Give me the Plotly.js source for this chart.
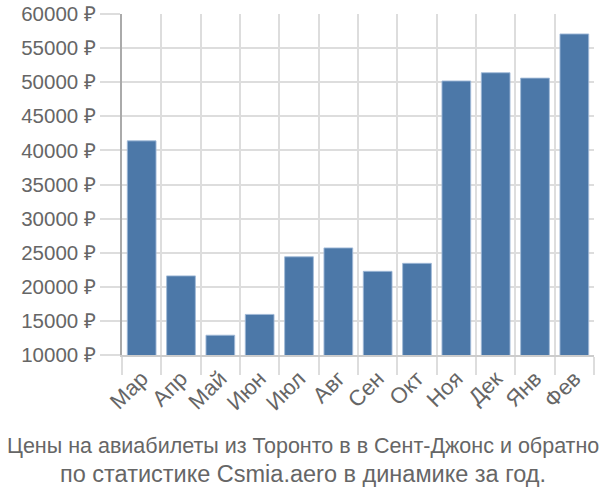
<!DOCTYPE html>
<html>
<head>
<meta charset="utf-8">
<script src="https://cdn.plot.ly/plotly-3.0.1.min.js"></script>
<style>html,body{margin:0;padding:0;background:#fff}#chart{width:600px;height:500px}</style>
</head>
<body>
<div id="chart"></div>
<script>
const months = ["Мар","Апр","Май","Июн","Июл","Авг","Сен","Окт","Ноя","Дек","Янв","Фев"];
const prices = [41400, 21600, 12900, 15950, 24400, 25700, 22270, 23440, 50180, 51390, 50600, 57070];
const yTicks = [10000,15000,20000,25000,30000,35000,40000,45000,50000,55000,60000];
const titleLine1 = "Цены на авиабилеты из Торонто в в Сент-Джонс и обратно";
const titleLine2 = "по статистике Csmia.aero в динамике за год.";

const font = "'Liberation Sans', Arial, sans-serif";
Plotly.newPlot("chart", [{
  type: "bar",
  x: months,
  y: prices,
  marker: {color: "#4c78a8", line: {color: "rgba(160,185,215,0.9)", width: 1}},
  hoverinfo: "none"
}], {
  width: 600, height: 500,
  margin: {l: 122, r: 6, t: 14, b: 145},
  paper_bgcolor: "#fff", plot_bgcolor: "#fff",
  bargap: 0.27,
  showlegend: false,
  font: {family: font, color: "#666", size: 20},
  annotations: [
    {text: titleLine1, xref: "paper", yref: "paper", x: 0.383, xanchor: "center",
     y: -0.267, yanchor: "middle", showarrow: false,
     font: {family: font, size: 21.5, color: "#666"}},
    {text: titleLine2, xref: "paper", yref: "paper", x: 0.383, xanchor: "center",
     y: -0.349, yanchor: "middle", showarrow: false,
     font: {family: font, size: 23.5, color: "#666"}}
  ],
  xaxis: {
    type: "category", tickson: "boundaries",
    tickangle: -45, ticks: "outside", ticklen: 18, tickcolor: "#ddd", tickwidth: 2,
    showgrid: true, gridcolor: "#ddd", gridwidth: 2,
    showline: true, linecolor: "#ccc", linewidth: 2,
    tickfont: {family: font, size: 22, color: "#666"}, automargin: false
  },
  yaxis: {
    range: [10000, 60000], tickvals: yTicks, ticktext: yTicks.map(v => v + " ₽"),
    ticks: "outside", ticklen: 20, tickcolor: "#ddd", tickwidth: 2,
    showgrid: true, gridcolor: "#ddd", gridwidth: 2, zeroline: false,
    showline: true, linecolor: "#aaa", linewidth: 2,
    tickfont: {family: font, size: 20.5, color: "#666"}, automargin: false
  }
}, {staticPlot: true});
</script>
</body>
</html>
